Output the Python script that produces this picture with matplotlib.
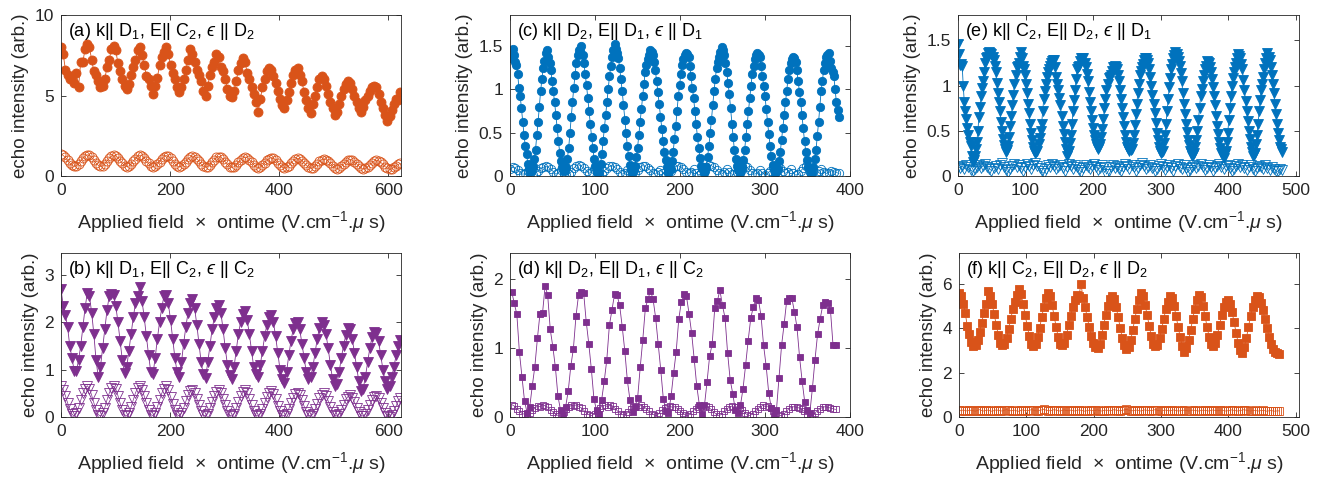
import numpy as np
import matplotlib
matplotlib.use("Agg")
import matplotlib.pyplot as plt
from matplotlib.ticker import FuncFormatter

plt.rcParams['font.family'] = ['Liberation Sans', 'DejaVu Sans']
plt.rcParams['mathtext.fontset'] = 'custom'
plt.rcParams['mathtext.rm'] = 'Liberation Sans'
plt.rcParams['mathtext.it'] = 'Liberation Sans:italic'
plt.rcParams['mathtext.sf'] = 'Liberation Sans'
plt.rcParams['mathtext.fallback'] = 'stixsans'

ORANGE = "#D95319"
BLUE = "#0072BD"
PURPLE = "#7E2F8E"

# ---- (a) k||D1, E||C2, eps||D2  (filled / open circles)
a_filled = [8.0, 7.6, 6.6, 6.3, 6.0, 6.2, 5.8, 6.4, 5.5, 7.1, 7.1, 7.9,
            8.2, 8.0, 7.2, 6.5, 6.3, 5.9, 5.5, 5.6, 6.0, 6.8, 7.2, 7.9,
            8.1, 7.8, 7.0, 6.5, 6.0, 5.6, 5.4, 5.7, 6.3, 6.8, 7.2, 7.8,
            8.0, 7.5, 6.9, 6.2, 6.0, 5.6, 5.1, 5.6, 6.1, 6.9, 7.4, 7.7,
            8.0, 7.6, 6.9, 6.4, 6.0, 5.5, 5.2, 5.5, 6.0, 6.6, 7.2, 7.9,
            7.6, 7.1, 6.6, 6.3, 5.9, 5.3, 5.0, 5.6, 6.3, 6.8, 7.1, 7.6,
            7.4, 6.8, 6.5, 6.0, 5.4, 5.0, 4.9, 5.3, 5.9, 6.6, 7.0, 7.3,
            7.1, 6.4, 6.0, 5.5, 5.1, 4.6, 4.0, 4.8, 5.5, 6.0, 6.5, 6.7,
            6.6, 6.2, 5.8, 5.3, 4.8, 4.4, 4.2, 4.7, 5.2, 5.8, 6.3, 6.6,
            6.7, 6.3, 5.9, 5.2, 4.7, 4.2, 3.9, 4.5, 5.0, 5.5, 6.0, 6.2,
            6.0, 5.6, 5.1, 4.6, 4.2, 3.8, 4.0, 4.5, 5.0, 5.4, 5.7, 5.9,
            5.8, 5.4, 5.0, 4.6, 4.2, 4.0, 4.3, 4.7, 5.0, 5.3, 5.5, 5.6,
            5.5, 5.1, 4.6, 4.2, 3.8, 3.4, 3.7, 4.1, 4.5, 4.8, 4.7, 5.2]
a_open = [1.35, 1.28, 1.15, 0.98, 0.80, 0.66, 0.60, 0.64, 0.76, 0.94, 1.10, 1.24,
          1.32, 1.28, 1.16, 0.98, 0.80, 0.66, 0.60, 0.63, 0.75, 0.92, 1.10, 1.23,
          1.30, 1.27, 1.14, 0.96, 0.79, 0.65, 0.58, 0.62, 0.74, 0.92, 1.08, 1.22,
          1.30, 1.26, 1.12, 0.95, 0.78, 0.64, 0.58, 0.62, 0.74, 0.90, 1.07, 1.20,
          1.27, 1.22, 1.10, 0.93, 0.76, 0.63, 0.57, 0.61, 0.72, 0.88, 1.05, 1.18,
          1.24, 1.20, 1.08, 0.91, 0.74, 0.61, 0.55, 0.58, 0.70, 0.86, 1.02, 1.15,
          1.21, 1.17, 1.05, 0.88, 0.72, 0.59, 0.53, 0.57, 0.68, 0.84, 1.00, 1.12,
          1.18, 1.14, 1.02, 0.86, 0.70, 0.57, 0.51, 0.55, 0.66, 0.81, 0.97, 1.08,
          1.14, 1.10, 0.99, 0.83, 0.68, 0.55, 0.49, 0.53, 0.64, 0.79, 0.94, 1.05,
          1.10, 1.06, 0.96, 0.81, 0.66, 0.54, 0.48, 0.51, 0.62, 0.76, 0.91, 1.02,
          1.06, 1.02, 0.92, 0.78, 0.63, 0.52, 0.46, 0.49, 0.60, 0.73, 0.87, 0.98,
          1.02, 0.98, 0.88, 0.75, 0.61, 0.50, 0.44, 0.47, 0.57, 0.70, 0.83, 0.94,
          0.98, 0.94, 0.85, 0.72, 0.58, 0.48, 0.42, 0.45, 0.54, 0.64, 0.72, 0.78]

# ---- (b) k||D1, E||C2, eps||C2  (filled / open down-triangles)
b_filled = [2.70, 2.35, 2.15, 1.90, 1.50, 1.25, 0.98, 0.96, 1.20, 1.50, 1.90, 2.30,
            2.62, 2.55, 2.20, 1.75, 1.20, 0.85, 1.05, 1.45, 1.85, 2.25, 2.55, 2.60,
            2.58, 2.35, 2.00, 1.60, 1.20, 0.93, 1.05, 1.40, 1.75, 2.10, 2.40, 2.55,
            2.75, 2.45, 2.10, 1.70, 1.30, 0.95, 0.90, 1.25, 1.65, 2.00, 2.30, 2.55,
            2.58, 2.40, 2.05, 1.65, 1.25, 0.95, 0.85, 1.15, 1.55, 1.90, 2.20, 2.40,
            2.48, 2.30, 1.95, 1.55, 1.15, 0.90, 0.82, 1.15, 1.50, 1.85, 2.10, 2.30,
            2.37, 2.20, 1.85, 1.45, 1.10, 0.88, 0.80, 1.05, 1.40, 1.75, 2.00, 2.18,
            2.23, 2.05, 1.75, 1.40, 1.05, 0.90, 0.85, 1.10, 1.40, 1.70, 1.95, 2.10,
            2.16, 2.00, 1.70, 1.35, 1.00, 0.80, 0.72, 0.95, 1.30, 1.60, 1.85, 1.98,
            2.00, 1.85, 1.55, 1.25, 0.95, 0.80, 0.85, 1.05, 1.35, 1.65, 1.88, 2.00,
            1.95, 1.75, 1.45, 1.10, 0.80, 0.65, 0.70, 0.95, 1.25, 1.50, 1.72, 1.88,
            1.85, 1.65, 1.35, 1.05, 0.75, 0.55, 0.60, 0.85, 1.15, 1.45, 1.68, 1.80,
            1.78, 1.60, 1.30, 1.00, 0.75, 0.60, 0.65, 0.85, 1.05, 1.30, 1.50, 1.63]
b_open = [0.65, 0.58, 0.45, 0.30, 0.16, 0.06, 0.02, 0.08, 0.20, 0.35, 0.50, 0.60,
          0.66, 0.60, 0.46, 0.30, 0.15, 0.05, 0.02, 0.08, 0.20, 0.36, 0.50, 0.61,
          0.65, 0.59, 0.45, 0.29, 0.15, 0.05, 0.02, 0.08, 0.21, 0.36, 0.51, 0.61,
          0.66, 0.58, 0.44, 0.29, 0.14, 0.05, 0.03, 0.09, 0.21, 0.36, 0.50, 0.60,
          0.65, 0.57, 0.43, 0.28, 0.14, 0.05, 0.02, 0.08, 0.19, 0.33, 0.46, 0.54,
          0.57, 0.51, 0.39, 0.26, 0.13, 0.04, 0.02, 0.07, 0.18, 0.31, 0.44, 0.52,
          0.56, 0.50, 0.38, 0.25, 0.12, 0.04, 0.02, 0.07, 0.18, 0.31, 0.44, 0.52,
          0.56, 0.50, 0.38, 0.25, 0.12, 0.04, 0.02, 0.07, 0.17, 0.30, 0.43, 0.51,
          0.55, 0.49, 0.37, 0.24, 0.12, 0.04, 0.02, 0.07, 0.17, 0.29, 0.41, 0.48,
          0.51, 0.46, 0.35, 0.23, 0.11, 0.04, 0.02, 0.06, 0.16, 0.28, 0.40, 0.47,
          0.50, 0.45, 0.34, 0.22, 0.11, 0.04, 0.02, 0.06, 0.15, 0.26, 0.37, 0.43,
          0.46, 0.41, 0.31, 0.20, 0.10, 0.03, 0.02, 0.06, 0.14, 0.25, 0.35, 0.42,
          0.45, 0.40, 0.30, 0.19, 0.09, 0.03, 0.01, 0.05, 0.13, 0.23, 0.33, 0.40]

# ---- (c) k||D2, E||D1, eps||D1  (filled / open circles)
c_filled = [1.36, 1.40, 1.47, 1.40, 1.32, 1.28, 1.18, 1.02, 0.92, 0.78, 0.62, 0.47, 0.35, 0.25,
            0.14, 0.08, 0.05, 0.07, 0.12, 0.20, 0.30, 0.47, 0.62, 0.80, 0.98, 1.12, 1.25, 1.33,
            1.42, 1.45, 1.38, 1.30, 1.22, 1.10, 0.98, 0.85, 0.70, 0.55, 0.40, 0.27, 0.17, 0.10,
            0.06, 0.07, 0.10, 0.20, 0.32, 0.50, 0.68, 0.85, 1.02, 1.17, 1.30, 1.40, 1.45, 1.44,
            1.50, 1.40, 1.30, 1.18, 1.05, 0.90, 0.75, 0.60, 0.45, 0.32, 0.20, 0.12, 0.06, 0.04,
            0.05, 0.14, 0.25, 0.40, 0.55, 0.70, 0.85, 1.00, 1.15, 1.27, 1.38, 1.45, 1.52, 1.47,
            1.42, 1.36, 1.25, 1.12, 0.98, 0.82, 0.65, 0.50, 0.35, 0.23, 0.13, 0.07, 0.04, 0.07,
            0.12, 0.22, 0.32, 0.47, 0.62, 0.77, 0.92, 1.06, 1.20, 1.28, 1.35, 1.40, 1.45, 1.43,
            1.40, 1.32, 1.22, 1.10, 0.97, 0.83, 0.68, 0.54, 0.40, 0.28, 0.18, 0.10, 0.05, 0.06,
            0.08, 0.17, 0.28, 0.43, 0.58, 0.75, 0.92, 1.05, 1.18, 1.28, 1.35, 1.40, 1.42, 1.41,
            1.38, 1.27, 1.15, 1.02, 0.90, 0.75, 0.60, 0.45, 0.32, 0.21, 0.12, 0.07, 0.04, 0.06,
            0.10, 0.22, 0.35, 0.50, 0.65, 0.82, 0.98, 1.12, 1.25, 1.32, 1.38, 1.43, 1.49, 1.45,
            1.40, 1.30, 1.20, 1.08, 0.95, 0.78, 0.60, 0.45, 0.30, 0.20, 0.12, 0.07, 0.04, 0.06,
            0.10, 0.19, 0.30, 0.45, 0.60, 0.75, 0.90, 1.04, 1.18, 1.27, 1.35, 1.40, 1.42, 1.40,
            1.38, 1.27, 1.15, 1.04, 0.92, 0.77, 0.62, 0.48, 0.35, 0.23, 0.13, 0.07, 0.03, 0.05,
            0.08, 0.17, 0.28, 0.42, 0.55, 0.70, 0.85, 0.98, 1.12, 1.22, 1.30, 1.35, 1.38, 1.36,
            1.32, 1.22, 1.10, 0.97, 0.85, 0.70, 0.55, 0.40, 0.28, 0.18, 0.10, 0.05, 0.02, 0.05,
            0.10, 0.20, 0.30, 0.46, 0.62, 0.80, 0.98, 1.10, 1.22, 1.30, 1.38, 1.40, 1.42, 1.33,
            1.25, 1.20, 1.15, 1.00, 0.85, 0.76, 0.68]
c_open = [0.08, 0.10, 0.09, 0.07, 0.04, 0.02, 0.03, 0.06, 0.02, 0.01, 0.03, 0.06, 0.09, 0.10,
          0.11, 0.10, 0.08, 0.05, 0.02, 0.04, 0.07, 0.04, 0.01, 0.02, 0.05, 0.09, 0.12, 0.13,
          0.11, 0.09, 0.06, 0.03, 0.05, 0.08, 0.05, 0.01, 0.02, 0.06, 0.09, 0.11, 0.12, 0.10,
          0.08, 0.05, 0.02, 0.04, 0.07, 0.03, 0.01, 0.03, 0.07, 0.10, 0.12, 0.11, 0.09, 0.07,
          0.04, 0.02, 0.05, 0.07, 0.03, 0.01, 0.03, 0.06, 0.09, 0.11, 0.12, 0.10, 0.08, 0.05,
          0.03, 0.05, 0.08, 0.04, 0.01, 0.03, 0.07, 0.10, 0.13, 0.12, 0.10, 0.07, 0.04, 0.02,
          0.05, 0.08, 0.05, 0.02, 0.02, 0.05, 0.09, 0.11, 0.12, 0.10, 0.07, 0.04, 0.02, 0.04,
          0.07, 0.04, 0.01, 0.03, 0.06, 0.10, 0.12, 0.11, 0.09, 0.06, 0.03, 0.05, 0.08, 0.04,
          0.01, 0.02, 0.06, 0.09, 0.11, 0.10, 0.08, 0.05, 0.03, 0.06, 0.08, 0.05, 0.03, 0.04,
          0.06, 0.05, 0.04, 0.03]

# ---- (d) k||D2, E||D1, eps||C2  (filled / open squares)
d_filled = [1.82, 1.65, 1.49, 0.94, 0.58, 0.23, 0.06, 0.14, 0.45, 0.73, 1.14, 1.50, 1.51,
            1.90, 1.77, 1.27, 1.02, 0.72, 0.30, 0.10, 0.04, 0.15, 0.38, 0.74, 0.99, 1.46,
            1.77, 1.82, 1.80, 1.38, 1.06, 0.69, 0.26, 0.10, 0.05, 0.25, 0.52, 0.83, 1.33,
            1.55, 1.78, 1.77, 1.62, 1.31, 0.96, 0.53, 0.25, 0.07, 0.15, 0.28, 0.72, 1.12,
            1.58, 1.71, 1.83, 1.71, 1.44, 1.06, 0.68, 0.26, 0.09, 0.06, 0.30, 0.64, 0.95,
            1.42, 1.67, 1.78, 1.75, 1.50, 1.22, 0.84, 0.45, 0.18, 0.05, 0.17, 0.51, 0.88,
            1.06, 1.58, 1.68, 1.84, 1.62, 1.44, 0.93, 0.54, 0.34, 0.10, 0.06, 0.17, 0.41,
            0.75, 1.11, 1.43, 1.60, 1.72, 1.70, 1.47, 1.04, 0.74, 0.35, 0.13, 0.03, 0.10,
            0.57, 1.04, 1.35, 1.69, 1.73, 1.72, 1.53, 1.30, 0.87, 0.52, 0.22, 0.10, 0.06,
            0.42, 0.83, 1.20, 1.42, 1.62, 1.67, 1.65, 1.56, 1.05, 1.05]
d_open = [0.18, 0.16, 0.12, 0.09, 0.05, 0.04, 0.03, 0.06, 0.10, 0.13, 0.16, 0.15, 0.18,
          0.16, 0.14, 0.10, 0.07, 0.04, 0.02, 0.03, 0.07, 0.11, 0.14, 0.17, 0.16, 0.18,
          0.15, 0.13, 0.09, 0.05, 0.03, 0.02, 0.05, 0.09, 0.13, 0.16, 0.17, 0.15, 0.17,
          0.16, 0.12, 0.08, 0.05, 0.03, 0.04, 0.07, 0.11, 0.14, 0.16, 0.15, 0.17, 0.15,
          0.12, 0.08, 0.05, 0.03, 0.02, 0.06, 0.10, 0.13, 0.15, 0.16, 0.14, 0.15, 0.12,
          0.09, 0.06, 0.03, 0.02, 0.05, 0.09, 0.12, 0.15, 0.16, 0.15, 0.16, 0.14, 0.11,
          0.07, 0.04, 0.02, 0.04, 0.08, 0.12, 0.14, 0.16, 0.14, 0.15, 0.13, 0.10, 0.06,
          0.03, 0.02, 0.05, 0.09, 0.12, 0.15, 0.17, 0.15, 0.16, 0.13, 0.09, 0.06, 0.03,
          0.02, 0.04, 0.08, 0.12, 0.14, 0.15, 0.14, 0.13, 0.11, 0.08, 0.05, 0.03, 0.02,
          0.06, 0.09, 0.12, 0.14, 0.15, 0.14, 0.13, 0.12, 0.11]

# ---- (e) k||C2, E||D2, eps||D1  (filled / open down-triangles)
e_filled = [1.46, 1.35, 1.23, 1.24, 1.22, 1.00, 0.82, 0.72, 0.63, 0.53, 0.45, 0.38, 0.33, 0.22, 0.15,
            0.18, 0.22, 0.30, 0.38, 0.50, 0.65, 0.76, 0.88, 0.97, 1.05, 1.15, 1.25, 1.30, 1.32, 1.36,
            1.37, 1.36, 1.35, 1.32, 1.28, 1.22, 1.15, 1.03, 0.92, 0.82, 0.72, 0.60, 0.50, 0.41, 0.34,
            0.30, 0.27, 0.29, 0.33, 0.43, 0.55, 0.66, 0.78, 0.90, 1.02, 1.12, 1.20, 1.22, 1.25, 1.32,
            1.37, 1.30, 1.22, 1.18, 1.12, 1.02, 0.92, 0.80, 0.70, 0.58, 0.48, 0.40, 0.32, 0.28, 0.25,
            0.26, 0.28, 0.35, 0.42, 0.50, 0.58, 0.72, 0.85, 0.94, 1.02, 1.10, 1.15, 1.18, 1.22, 1.25,
            1.27, 1.28, 1.28, 1.20, 1.10, 1.02, 0.95, 0.86, 0.78, 0.66, 0.55, 0.46, 0.38, 0.30, 0.22,
            0.25, 0.28, 0.36, 0.45, 0.58, 0.72, 0.84, 0.95, 1.07, 1.18, 1.20, 1.22, 1.27, 1.31, 1.31,
            1.30, 1.25, 1.20, 1.13, 1.05, 0.93, 0.82, 0.72, 0.62, 0.53, 0.45, 0.40, 0.35, 0.32, 0.30,
            0.32, 0.35, 0.43, 0.52, 0.63, 0.75, 0.85, 0.95, 1.02, 1.08, 1.10, 1.12, 1.16, 1.20, 1.21,
            1.22, 1.20, 1.18, 1.12, 1.05, 0.95, 0.85, 0.75, 0.65, 0.55, 0.45, 0.38, 0.32, 0.30, 0.28,
            0.29, 0.30, 0.37, 0.45, 0.56, 0.68, 0.80, 0.92, 1.02, 1.12, 1.16, 1.20, 1.24, 1.28, 1.30,
            1.31, 1.28, 1.25, 1.18, 1.10, 1.00, 0.90, 0.80, 0.70, 0.59, 0.48, 0.40, 0.32, 0.28, 0.25,
            0.26, 0.28, 0.36, 0.45, 0.58, 0.72, 0.85, 0.98, 1.08, 1.18, 1.24, 1.30, 1.34, 1.37, 1.35,
            1.32, 1.27, 1.22, 1.14, 1.05, 0.92, 0.80, 0.69, 0.58, 0.49, 0.40, 0.34, 0.28, 0.25, 0.22,
            0.23, 0.25, 0.32, 0.40, 0.50, 0.62, 0.75, 0.88, 0.96, 1.05, 1.12, 1.18, 1.22, 1.27, 1.26,
            1.25, 1.20, 1.15, 1.07, 0.98, 0.88, 0.78, 0.66, 0.55, 0.46, 0.38, 0.31, 0.25, 0.22, 0.20,
            0.24, 0.28, 0.38, 0.48, 0.62, 0.75, 0.88, 1.00, 1.08, 1.15, 1.20, 1.25, 1.30, 1.35, 1.33,
            1.30, 1.24, 1.18, 1.06, 0.95, 0.83, 0.72, 0.61, 0.50, 0.41, 0.32, 0.27, 0.22, 0.23, 0.25,
            0.35, 0.45, 0.58, 0.72, 0.84, 0.95, 1.02, 1.10, 1.18, 1.25, 1.30, 1.36, 1.32, 1.28, 1.20,
            1.12, 1.02, 0.92, 0.80, 0.68, 0.58, 0.48, 0.40, 0.32, 0.30, 0.27]
e_open = [0.10, 0.09, 0.11, 0.08, 0.12, 0.10, 0.07, 0.05, 0.08, 0.10, 0.12, 0.09, 0.11, 0.13, 0.10, 0.08,
          0.06, 0.09, 0.11, 0.08, 0.12, 0.14, 0.10, 0.07, 0.04, 0.08, 0.11, 0.13, 0.10, 0.12, 0.09, 0.06,
          0.10, 0.13, 0.11, 0.08, 0.12, 0.14, 0.11, 0.09, 0.05, 0.03, 0.08, 0.12, 0.10, 0.13, 0.11, 0.08,
          0.10, 0.12, 0.09, 0.06, 0.10, 0.13, 0.11, 0.08, 0.12, 0.10, 0.07, 0.04, 0.09, 0.12, 0.10, 0.08,
          0.11, 0.13, 0.10, 0.07, 0.09, 0.12, 0.10, 0.02, 0.06, 0.10, 0.12, 0.09, 0.11, 0.08, 0.05, 0.10,
          0.13, 0.11, 0.08, 0.12, 0.10, 0.06, 0.09, 0.12, 0.14, 0.11, 0.08, 0.10, 0.12, 0.09, 0.05, 0.08,
          0.11, 0.13, 0.10, 0.07, 0.10, 0.12, 0.09, 0.06, 0.11, 0.13, 0.10, 0.08, 0.12, 0.09, 0.04, 0.07,
          0.10, 0.12, 0.09, 0.11, 0.13, 0.10, 0.07, 0.09, 0.12, 0.10, 0.06, 0.09, 0.11, 0.13, 0.10, 0.08,
          0.11, 0.12, 0.09, 0.05, 0.08, 0.11, 0.13, 0.10, 0.12, 0.09, 0.07, 0.10, 0.12, 0.08, 0.05, 0.09,
          0.11, 0.10, 0.08, 0.12, 0.09, 0.07, 0.10, 0.08, 0.06, 0.05, 0.08, 0.07]

# ---- (f) k||C2, E||D2, eps||D2  (filled / open squares)
f_filled = [5.60, 5.45, 5.10, 4.70, 4.10, 3.75, 3.40, 3.20, 3.25, 3.45, 3.85, 4.25, 4.70, 5.10,
            5.67, 5.45, 5.10, 4.65, 4.15, 3.70, 3.35, 3.25, 3.30, 3.55, 3.95, 4.40, 4.85, 5.20, 5.50,
            5.75, 5.55, 5.10, 4.60, 4.10, 3.65, 3.30, 3.20, 3.30, 3.60, 4.00, 4.50, 4.95, 5.35,
            5.60, 5.45, 5.05, 4.55, 4.05, 3.60, 3.30, 3.25, 3.35, 3.70, 4.15, 4.55, 4.95, 5.25, 5.50, 5.45,
            6.00, 5.35, 4.95, 4.50, 4.05, 3.65, 3.35, 3.15, 3.10, 3.30, 3.70, 4.15, 4.60, 5.00, 5.30,
            5.45, 5.30, 4.95, 4.50, 4.00, 3.55, 3.25, 3.05, 3.15, 3.45, 3.90, 4.40, 4.85, 5.25,
            5.60, 5.45, 5.05, 4.60, 4.10, 3.65, 3.30, 3.20, 3.25, 3.55, 3.95, 4.40, 4.85, 5.20,
            5.45, 5.35, 5.00, 4.55, 4.05, 3.60, 3.20, 2.95, 3.10, 3.45, 3.90, 4.40, 4.85, 5.25,
            5.50, 5.40, 5.00, 4.55, 4.05, 3.60, 3.30, 3.20, 3.35, 3.70, 4.15, 4.60, 4.95, 5.20,
            5.25, 5.10, 4.75, 4.30, 3.80, 3.35, 3.00, 2.90, 3.15, 3.55, 4.05, 4.55, 4.95, 5.25,
            5.45, 5.40, 5.15, 4.80, 4.40, 4.00, 3.60, 3.30, 3.05, 2.95, 2.90, 2.85]
f_open = [0.30, 0.28, 0.32, 0.29, 0.27, 0.31, 0.30, 0.28, 0.26, 0.30, 0.33, 0.29, 0.27, 0.30, 0.31, 0.28,
          0.26, 0.29, 0.32, 0.30, 0.28, 0.27, 0.31, 0.33, 0.30, 0.28, 0.29, 0.31, 0.27, 0.26, 0.30, 0.32,
          0.29, 0.28, 0.30, 0.33, 0.31, 0.28, 0.27, 0.30, 0.32, 0.35, 0.31, 0.29, 0.28, 0.30, 0.33, 0.31,
          0.28, 0.27, 0.30, 0.32, 0.29, 0.28, 0.31, 0.30, 0.27, 0.29, 0.32, 0.30, 0.28, 0.26, 0.29, 0.31,
          0.30, 0.28, 0.30, 0.32, 0.29, 0.27, 0.29, 0.31, 0.30, 0.28, 0.30, 0.33, 0.31, 0.29, 0.28, 0.30,
          0.32, 0.34, 0.31, 0.29, 0.28, 0.30, 0.31, 0.29, 0.27, 0.30, 0.32, 0.30, 0.28, 0.29, 0.31, 0.33,
          0.30, 0.28, 0.27, 0.30, 0.31, 0.29, 0.28, 0.30, 0.32, 0.29, 0.27, 0.28, 0.30, 0.31, 0.29, 0.27,
          0.29, 0.31, 0.30, 0.28, 0.27, 0.29, 0.31, 0.30, 0.28, 0.27, 0.30, 0.32, 0.29, 0.28, 0.30, 0.31,
          0.29, 0.27, 0.28, 0.30, 0.32, 0.30, 0.28, 0.27, 0.29, 0.31, 0.33, 0.30, 0.28, 0.27, 0.29, 0.30,
          0.28, 0.27, 0.29, 0.30, 0.28, 0.26, 0.28, 0.29, 0.27, 0.26, 0.28, 0.27]

# field x ontime range of each scan (first, last point)
a_span = (0, 622)
b_span = (0, 622)
c_span = (0, 387)
d_span = (2, 383)
e_span = (0, 480)
f_span = (0, 476)

EPS = "$\u03f5$"
titles = {
    "a": "(a) k|| D$_1$, E|| C$_2$, " + EPS + " || D$_2$",
    "b": "(b) k|| D$_1$, E|| C$_2$, " + EPS + " || C$_2$",
    "c": "(c) k|| D$_2$, E|| D$_1$, " + EPS + " || D$_1$",
    "d": "(d) k|| D$_2$, E|| D$_1$, " + EPS + " || C$_2$",
    "e": "(e) k|| C$_2$, E|| D$_2$, " + EPS + " || D$_1$",
    "f": "(f) k|| C$_2$, E|| D$_2$, " + EPS + " || D$_2$",
}

W, H = 1335, 487
fig = plt.figure(figsize=(W / 100, H / 100), dpi=100)
AX_COL = "#262626"


def rect(l, t, r, b):
    return [l / W, 1 - b / H, (r - l) / W, (b - t) / H]


def panel(box, filled, opened, span, color, marker, ms, xlim, ylim,
          xticks, yticks, title):
    ax = fig.add_axes(rect(*box))
    xf = np.linspace(span[0], span[1], len(filled))
    xo = np.linspace(span[0], span[1], len(opened))
    ax.plot(xo, opened, color=color, lw=0.5, marker=marker, ms=ms,
            mfc="none", mec=color, mew=0.6)
    ax.plot(xf, filled, color=color, lw=0.6, marker=marker, ms=ms,
            mfc=color, mec=color, mew=0.6)
    ax.set_xlim(*xlim)
    ax.set_ylim(*ylim)
    ax.set_xticks(xticks)
    ax.set_yticks(yticks)
    ax.yaxis.set_major_formatter(FuncFormatter(lambda v, p: f"{v:g}"))
    ax.tick_params(direction="in", top=True, right=True, length=3.5,
                   width=0.6, colors=AX_COL, labelsize=12.5, pad=5)
    for s in ax.spines.values():
        s.set_linewidth(0.6)
        s.set_color(AX_COL)
    ax.set_ylabel("echo intensity (arb.)", fontsize=13.5, color=AX_COL, labelpad=4)
    ax.set_xlabel(r"Applied field  $\times$  ontime (V.cm$^{-1}$.$\mu$ s)",
                  fontsize=14, color=AX_COL, labelpad=8)
    ax.text(0.02, 0.965, title, transform=ax.transAxes, ha="left", va="top",
            fontsize=13, color="black")
    return ax


panel((61, 15, 401, 176), a_filled, a_open, a_span, ORANGE, "o", 6.5,
      (0, 623), (0, 10), [0, 200, 400, 600], [0, 5, 10], titles["a"])
panel((61, 253, 401, 417), b_filled, b_open, b_span, PURPLE, "v", 6.5,
      (0, 623), (0, 3.46), [0, 200, 400, 600], [0, 1, 2, 3], titles["b"])
panel((510, 15, 850, 176), c_filled, c_open, c_span, BLUE, "o", 6.0,
      (0, 400), (0, 1.86), [0, 100, 200, 300, 400], [0, 0.5, 1, 1.5], titles["c"])
panel((510, 253, 850, 417), d_filled, d_open, d_span, PURPLE, "s", 5.0,
      (0, 400), (0, 2.38), [0, 100, 200, 300, 400], [0, 1, 2], titles["d"])
panel((958, 15, 1299, 176), e_filled, e_open, e_span, BLUE, "v", 6.5,
      (0, 505), (0, 1.78), [0, 100, 200, 300, 400, 500], [0, 0.5, 1, 1.5], titles["e"])
panel((959, 253, 1299, 417), f_filled, f_open, f_span, ORANGE, "s", 5.5,
      (0, 505), (0, 7.39), [0, 100, 200, 300, 400, 500], [0, 2, 4, 6], titles["f"])

fig.savefig("out.png", dpi=100)
